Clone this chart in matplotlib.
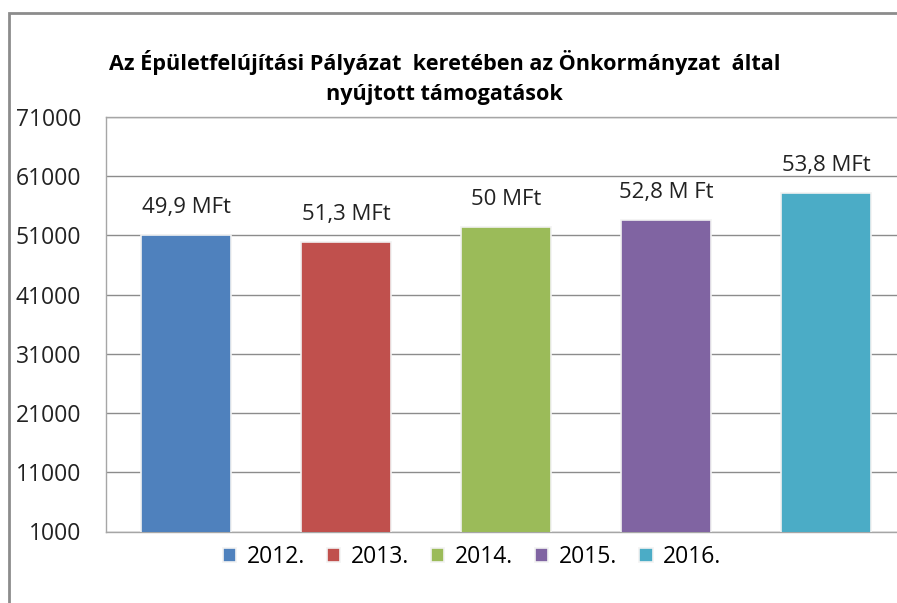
"""Önkormányzati támogatások oszlopdiagram."""
import matplotlib
matplotlib.use('Agg')
import matplotlib.pyplot as plt
from matplotlib.patches import Rectangle

YEARS = ['2012.', '2013.', '2014.', '2015.', '2016.']
VALUES = [51100, 49900, 52400, 53550, 58100]
LABELS = ['49,9 MFt', '51,3 MFt', '50 MFt', '52,8 M Ft', '53,8 MFt']
COLORS = ['#4F81BD', '#C0504D', '#9BBB59', '#8064A2', '#4BACC6']
YTICKS = list(range(1000, 71001, 10000))
TITLE = ('Az Épületfelújítási Pályázat  keretében az Önkormányzat  által\n'
         'nyújtott támogatások')

plt.rcParams['font.family'] = ['Open Sans', 'DejaVu Sans']

fig = plt.figure(figsize=(8.97, 6.03), dpi=100)
ax = fig.add_axes([106 / 897, 1 - 531.5 / 603, 800 / 897, 414.5 / 603])

x = range(len(YEARS))
bars = ax.bar(x, VALUES, width=0.5625, color=COLORS, edgecolor='#f2f2f2',
              linewidth=1.2, label=YEARS, zorder=3)

for rect, lab in zip(bars, LABELS):
    ax.annotate(lab, (rect.get_x() + rect.get_width() / 2, rect.get_height()),
                xytext=(0, 20), textcoords='offset points', ha='center',
                va='center', fontsize=16, color='#222222')

ax.set_xlim(-0.5, len(YEARS) - 0.5)
ax.set_ylim(1000, 71000)
ax.set_yticks(YTICKS)
ax.set_yticklabels([str(v) for v in YTICKS], fontsize=16.5, color='#222222')
ax.set_xticks([])
ax.tick_params(axis='y', length=0, pad=18)
ax.grid(axis='y', color='#8c8c8c', linewidth=1, zorder=0)
for s in ax.spines.values():
    s.set_color('#a6a6a6')
    s.set_linewidth(1)

fig.text(0.496, 1 - 77.5 / 603, TITLE, ha='center', va='center',
         fontsize=15.6, fontweight='bold', linespacing=1.55)

fig.legend(handles=bars, labels=YEARS, loc='center', ncol=5,
           bbox_to_anchor=(0.526, 1 - 557 / 603), frameon=False,
           fontsize=16.5, handlelength=0.6, handleheight=0.6,
           handletextpad=0.45, columnspacing=0.95)

# outer chart border (cut off on right and bottom)
fig.patches.append(Rectangle((8.5 / 897, -0.1), 1.2, 1.1 - 12.5 / 603,
                             transform=fig.transFigure, fill=False,
                             edgecolor='#8c8c8c', linewidth=2))

fig.savefig('out.png', dpi=100)
